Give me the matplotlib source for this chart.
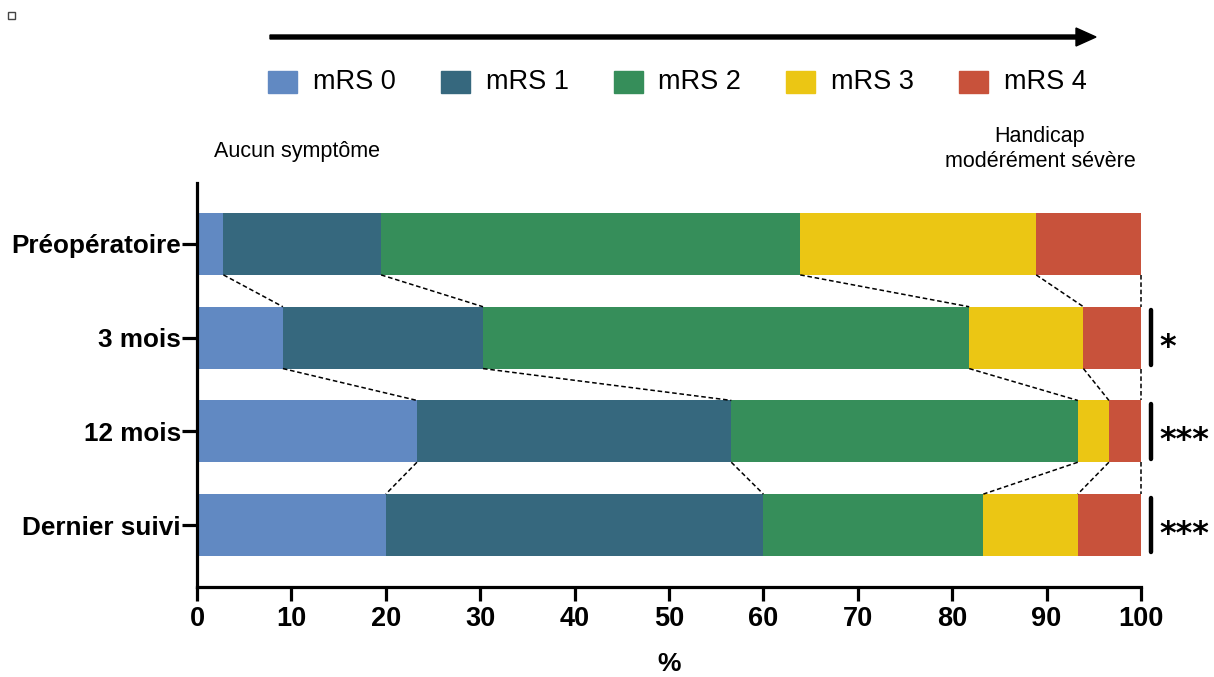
import numpy as np
import matplotlib
matplotlib.use("Agg")
import matplotlib.pyplot as plt
from matplotlib.patches import Rectangle, FancyArrow

plt.rcParams['font.family'] = ['Liberation Sans', 'DejaVu Sans']

categories = ["Préopératoire", "3 mois", "12 mois", "Dernier suivi"]
series_names = ["mRS 0", "mRS 1", "mRS 2", "mRS 3", "mRS 4"]
mrs0 = [2.8, 9.1, 23.3, 20.0]
mrs1 = [16.7, 21.2, 33.3, 40.0]
mrs2 = [44.4, 51.5, 36.7, 23.3]
mrs3 = [25.0, 12.1, 3.3, 10.0]
mrs4 = [11.1, 6.1, 3.4, 6.7]
significance = ["", "*", "***", "***"]
xticks = [0, 10, 20, 30, 40, 50, 60, 70, 80, 90, 100]
colors = ["#6189C2", "#36687E", "#368E5A", "#EBC614", "#C8523B"]

series = [mrs0, mrs1, mrs2, mrs3, mrs4]
vals = np.array(series)  # shape (5, 4)
cum = np.cumsum(vals, axis=0)
left = cum - vals

fig = plt.figure(figsize=(12.14, 6.77), dpi=100)
ax = fig.add_axes([197/1214, 1-587/677, (1141-197)/1214, (587-183)/677])

y = np.arange(len(categories))
bh = 0.66
for k in range(len(series)):
    ax.barh(y, vals[k], left=left[k], height=bh, color=colors[k], edgecolor='none', zorder=2)

# dashed connectors
for i in range(len(categories) - 1):
    for k in range(len(series)):
        ax.plot([cum[k, i], cum[k, i + 1]], [y[i] + bh/2, y[i + 1] - bh/2],
                color='black', lw=1.1, ls=(0, (3, 1.8)), zorder=3, clip_on=False)

ax.set_xlim(0, 100)
ax.set_ylim(3 + 62/93.7, -61/93.7)
ax.set_yticks(y)
ax.set_yticklabels(categories, fontsize=18.8, fontweight='bold')
ax.set_xticks(xticks)
ax.set_xticklabels([str(t) for t in xticks], fontsize=19.5, fontweight='bold')
ax.set_xlabel("%", fontsize=19, fontweight='bold', labelpad=14)
for s in ['top', 'right']:
    ax.spines[s].set_visible(False)
for s in ['left', 'bottom']:
    ax.spines[s].set_linewidth(2.3)
ax.tick_params(axis='y', length=10.5, width=2.3, pad=1)
ax.tick_params(axis='x', length=10, width=2.3, pad=4)

# significance markers
for i, s in enumerate(significance):
    if not s:
        continue
    ax.plot([101.1, 101.1], [y[i] - 0.29, y[i] + 0.29], color='black', lw=3.2,
            solid_capstyle='round', clip_on=False)
    ax.text(101.9, y[i] + 0.10, s, fontsize=23, fontweight='bold', ha='left', va='center',
            family='DejaVu Sans', clip_on=False)

# annotations
fig.text(297/1214, 1-151/677, "Aucun symptôme", fontsize=15.5, ha='center', va='center')
fig.text(1040/1214, 1-149/677, "Handicap\nmodérément sévère", fontsize=15.5, ha='center',
         va='center', linespacing=1.3)

# arrow
fig.add_artist(FancyArrow(270/1214, 1-37/677, (1076-270)/1214, 0, width=4/677,
                          head_width=18/677, head_length=20/1214, length_includes_head=False,
                          color='black', transform=fig.transFigure))

# legend
xs0 = 268
step = 172.75
for k, name in enumerate(series_names):
    x0 = xs0 + k * step
    fig.add_artist(Rectangle((x0/1214, 1-93/677), 29/1214, 22/677, color=colors[k],
                             transform=fig.transFigure))
    fig.text((x0 + 45)/1214, 1-82/677, name, fontsize=19.5, ha='left', va='center')

# small square top-left
fig.add_artist(Rectangle((8/1214, 1-19/677), 7/1214, 7/677, facecolor='white',
                         edgecolor='#444444', lw=1, transform=fig.transFigure))

fig.savefig("out.png", dpi=100)
